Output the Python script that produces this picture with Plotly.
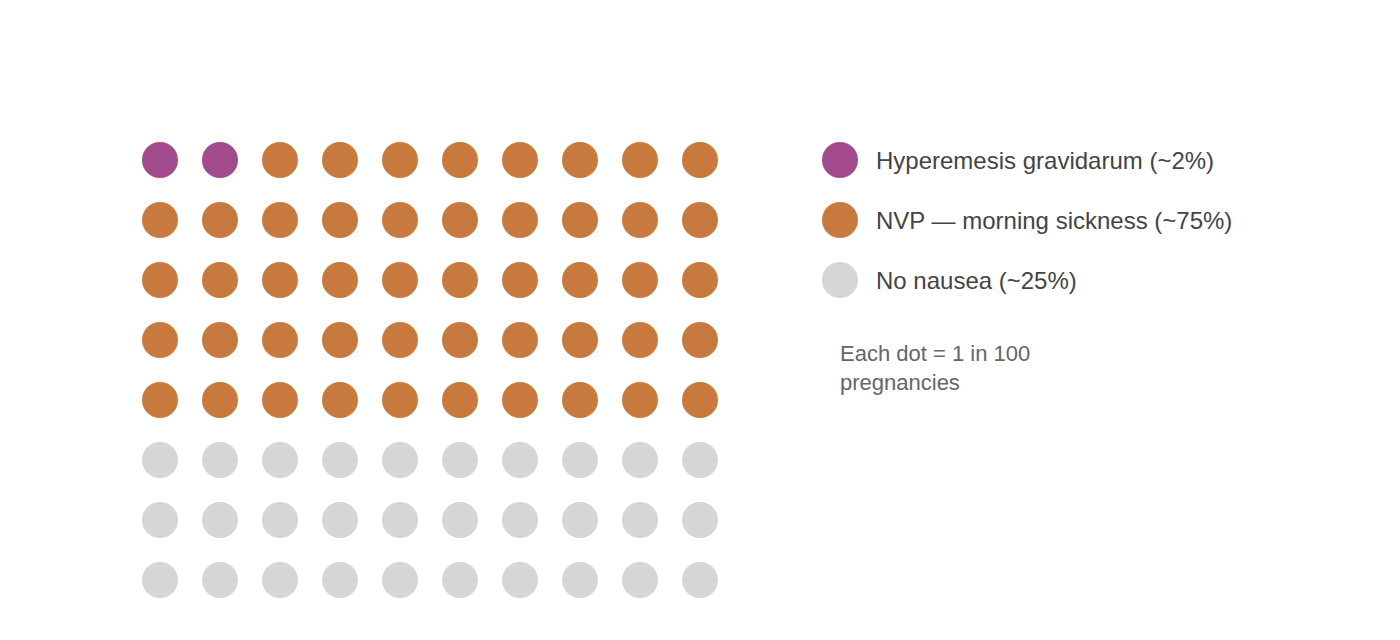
import plotly.graph_objects as go

# Data
categories = ["Hyperemesis gravidarum (~2%)", "NVP — morning sickness (~75%)", "No nausea (~25%)"]
dot_counts = [2, 48, 30]          # dots drawn in the visible grid
colors = ["#A34A8C", "#C87A3E", "#D6D6D6"]
n_cols = 10
n_rows = 8
note_text = "Each dot = 1 in 100<br>pregnancies"

W, H = 1400, 640
PAGE_OFF = 8                       # browser body margin
grid_x0, grid_y0, pitch = 160 - PAGE_OFF, 160 - PAGE_OFF, 60
dot_size = 36
FONT = "Liberation Sans, Arial, Helvetica, sans-serif"

def px_x(x):
    return (x - PAGE_OFF) / W

def px_y(y):
    return 1 - (y - PAGE_OFF) / H

fig = go.Figure()

# Waffle grid
idx = 0
for cat, n, col in zip(categories, dot_counts, colors):
    xs, ys = [], []
    for _ in range(n):
        xs.append(idx % n_cols)
        ys.append(idx // n_cols)
        idx += 1
    fig.add_trace(go.Scatter(
        x=xs, y=ys, mode="markers", name=cat, showlegend=False,
        marker=dict(size=dot_size, color=col, line=dict(width=0)),
        hoverinfo="name",
    ))

# Manual legend dots
leg_col = (840 - 160) / pitch
fig.add_trace(go.Scatter(
    x=[leg_col] * len(categories), y=list(range(len(categories))), mode="markers",
    showlegend=False, hoverinfo="skip",
    marker=dict(size=dot_size, color=colors, line=dict(width=0)),
))

annotations = []
for i, cat in enumerate(categories):
    annotations.append(dict(
        x=px_x(874), y=px_y(160 + i * pitch), xref="paper", yref="paper",
        text=cat, showarrow=False, xanchor="left", yanchor="middle",
        font=dict(family=FONT, size=24, color="#444444"),
    ))
annotations.append(dict(
    x=px_x(838), y=px_y(368), xref="paper", yref="paper",
    text=note_text, showarrow=False, xanchor="left", yanchor="middle", align="left",
    font=dict(family=FONT, size=22, color="#666666"),
))

fig.update_layout(
    width=W, height=H,
    margin=dict(l=0, r=0, t=0, b=0),
    paper_bgcolor="white", plot_bgcolor="white",
    xaxis=dict(range=[-grid_x0 / pitch, (W - grid_x0) / pitch], visible=False, fixedrange=True),
    yaxis=dict(range=[(H - grid_y0) / pitch, -grid_y0 / pitch], visible=False, fixedrange=True),
    annotations=annotations,
    showlegend=False,
)

fig.write_html("out.html")
